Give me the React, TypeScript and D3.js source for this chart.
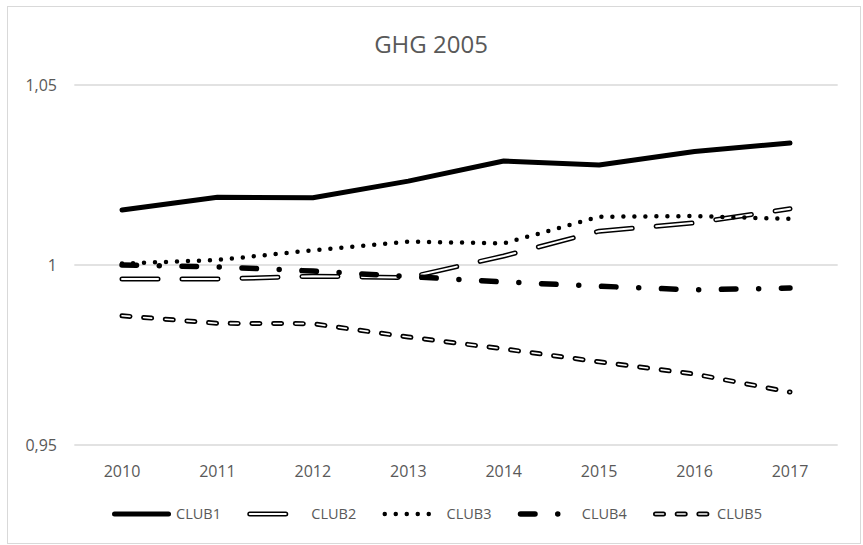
import React from "react";
import * as d3 from "d3";

const years = ["2010", "2011", "2012", "2013", "2014", "2015", "2016", "2017"];
const club1 = [1.0153, 1.0188, 1.0187, 1.0233, 1.0289, 1.0278, 1.0315, 1.0339];
const club2 = [0.9961, 0.9961, 0.9969, 0.9965, 1.0025, 1.0094, 1.0117, 1.0156];
const club3 = [1.0004, 1.0014, 1.0041, 1.0065, 1.0060, 1.0134, 1.0136, 1.0128];
const club4 = [1.0, 0.9995, 0.9983, 0.9968, 0.9953, 0.9941, 0.9931, 0.9936];
const club5 = [0.9859, 0.9838, 0.9837, 0.98, 0.9767, 0.9731, 0.9697, 0.9647];
const yTicks = [0.95, 1, 1.05];
const yTickLabels = ["0,95", "1", "1,05"];
const seriesNames = ["CLUB1", "CLUB2", "CLUB3", "CLUB4", "CLUB5"];
const seriesValues = [club1, club2, club3, club4, club5];

type Style = { w: number; dash?: string; inner?: number; cap: "round" | "butt" };
const styles: Style[] = [
  { w: 5, cap: "round" },
  { w: 5, dash: "36 24", inner: 2, cap: "round" },
  { w: 4.5, dash: "0 11", cap: "round" },
  { w: 5.5, dash: "14.5 22.75 0 22.75", cap: "round" },
  { w: 5, dash: "8 13.7", inner: 1.6, cap: "round" },
];

const W = 863;
const H = 545;
const font = "'Open Sans', 'DejaVu Sans', sans-serif";
const textColor = "#595959";

function StyledPath({ d, s }: { d: string; s: Style }) {
  return (
    <g fill="none">
      <path d={d} stroke="#000" strokeWidth={s.w} strokeDasharray={s.dash} strokeLinecap={s.cap} strokeLinejoin="round" />
      {s.inner ? (
        <path d={d} stroke="#fff" strokeWidth={s.inner} strokeDasharray={s.dash} strokeLinecap={s.cap} strokeLinejoin="round" />
      ) : null}
    </g>
  );
}

export default function App() {
  const x = d3.scalePoint<string>().domain(years).range([74.3, 837.7]).padding(0.5);
  const y = d3.scaleLinear().domain([0.95, 1.05]).range([445, 85]);
  const line = d3
    .line<number>()
    .x((_, i) => x(years[i]) as number)
    .y((v) => y(v));

  const legendStart = 112;
  const legendStep = 135.25;
  const legendY = 514;

  return (
    <div style={{ position: "absolute", left: 0, top: 0 }}>
      <svg width={W} height={H} style={{ display: "block" }}>
        <rect x={0} y={0} width={W} height={H} fill="#fff" />
        <rect x={7.5} y={6.5} width={853} height={537} fill="none" stroke="#d9d9d9" strokeWidth={1} />
        <text x={431} y={53} textAnchor="middle" fontFamily={font} fontSize={24} fill={textColor}>
          GHG 2005
        </text>
        {yTicks.map((t, i) => (
          <g key={t}>
            <line x1={74.3} x2={837.7} y1={y(t)} y2={y(t)} stroke="#d9d9d9" strokeWidth={1.5} />
            <text x={57} y={y(t)} dy="0.35em" textAnchor="end" fontFamily={font} fontSize={16} fill={textColor}>
              {yTickLabels[i]}
            </text>
          </g>
        ))}
        {years.map((yr) => (
          <text key={yr} x={x(yr)} y={477} textAnchor="middle" fontFamily={font} fontSize={16} fill={textColor}>
            {yr}
          </text>
        ))}
        {seriesValues.map((vals, i) => (
          <StyledPath key={seriesNames[i]} d={line(vals) || ""} s={styles[i]} />
        ))}
        {seriesNames.map((name, i) => {
          const s = legendStart + i * legendStep;
          const inset = styles[i].w / 2;
          const d = `M${s + inset},${legendY}L${s + 59 - inset},${legendY}`;
          return (
            <g key={name}>
              <StyledPath d={d} s={styles[i]} />
              <text x={s + 64} y={legendY} dy="0.35em" fontFamily={font} fontSize={14.5} fill={textColor}>
                {name}
              </text>
            </g>
          );
        })}
      </svg>
    </div>
  );
}
